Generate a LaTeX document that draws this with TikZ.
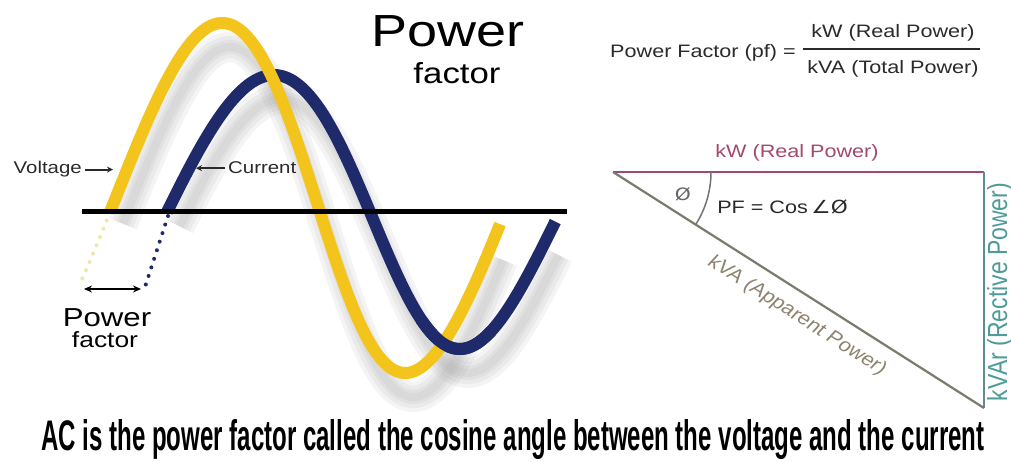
\documentclass[tikz,border=0pt]{standalone}
\usepackage{fontspec}
\setmainfont{Liberation Sans}
\newfontfamily\dejavu{DejaVu Sans}
\usepackage{graphicx}
\usetikzlibrary{arrows.meta,calc}
\definecolor{voltyellow}{HTML}{F3C41C}
\definecolor{currnavy}{HTML}{1F2A6B}
\definecolor{dotyellow}{HTML}{EFE7A8}
\definecolor{kwred}{HTML}{A3486E}
\definecolor{kvagray}{HTML}{7C7A6C}
\definecolor{kvatext}{HTML}{8E836E}
\definecolor{kvarteal}{HTML}{5E8F8C}
\definecolor{kvartext}{HTML}{4E9C98}
\definecolor{txtgray}{HTML}{2A2A2A}

\begin{document}
\begin{tikzpicture}[x=1pt, y=-1pt, >={Stealth[length=6pt,width=6pt]},
      declare function={vx(\t)=110+1.097*\t+7.25*sin(\t)+6.25*(1-cos(\t));
                         vy(\t)=212-175*sin(\t)-14*sin(\t)*sin(\t);
                         cx(\t)=167+1.0917*\t+5.25*sin(\t)+3.25*(1-cos(\t));
                         cy(\t)=212-137*sin(\t);},
      lbl/.style={inner sep=0pt, xscale=1.2, text=txtgray},
      wave/.style={line width=12pt},
      blur/.style={line width=#1, black!40, opacity=0.1},
      dots/.style={line width=4pt, line cap=round, dash pattern=on 0pt off 9pt},
      leg/.style={line width=2pt, txtgray},
      side/.style={line width=2.2pt}]
  \fill[white] (0,0) rectangle (1011,462);
  \useasboundingbox (0,0) rectangle (1011,462);

  % shadows of the waves
  \begin{scope}[shift={(8,24)}]
    \foreach \w in {30pt,22pt,14pt,8pt} {
      \draw[blur=\w] plot[domain=4:352, samples=120, variable=\t] ({vx(\t)},{vy(\t)});
      \draw[blur=\w] plot[domain=4:352, samples=120, variable=\t] ({cx(\t)},{cy(\t)});
    }
  \end{scope}

  \coordinate (cz) at (168,216);
  \coordinate (cd) at (145,287);
  \draw[dots, dotyellow] plot[domain=0:-26, samples=20, variable=\t] ({vx(\t)},{vy(\t)});
  \draw[dots, currnavy] (cz) -- (cd);

  \draw[wave, currnavy] plot[domain=0:356, samples=150, variable=\t] ({cx(\t)},{cy(\t)});
  \draw[wave, voltyellow] plot[domain=0:356, samples=150, variable=\t] ({vx(\t)},{vy(\t)});
  \draw[wave, currnavy] plot[domain=232:300, samples=40, variable=\t] ({cx(\t)},{cy(\t)});

  \coordinate (ax0) at (82,212);
  \coordinate (ax1) at (567,212);
  \draw[line width=5pt] (ax0) -- (ax1);

  \node[lbl, text=black, anchor=base, font=\fontsize{45}{50}\selectfont] (title) at (448,47) {Power};
  \node[lbl, text=black, anchor=base, font=\fontsize{29}{32}\selectfont] (title2) at (457,84) {factor};

  \node[lbl, anchor=base east, font=\fontsize{17}{19}\selectfont] (voltlbl) at (82,174) {Voltage};
  \node[lbl, anchor=base west, font=\fontsize{17}{19}\selectfont] (currlbl) at (228,174) {Current};
  \coordinate (vtip) at (113,168);
  \coordinate (ctip) at (196,168);
  \draw[->, leg, shorten <=3pt] (voltlbl.east) -- (vtip |- voltlbl.east);
  \draw[->, leg, shorten <=3pt] (currlbl.west) -- (ctip |- currlbl.west);

  \coordinate (pfL) at (84,289);
  \coordinate (pfR) at (141,289);
  \draw[<->, line width=2.5pt, >={Stealth[length=8pt,width=7pt]}] (pfL) -- (pfR);
  \node[lbl, text=black, anchor=base, font=\fontsize{26}{28}\selectfont] (pflow) at (107,326) {Power};
  \node[lbl, text=black, anchor=base, font=\fontsize{22}{24}\selectfont] (pflow2) at (105,347) {factor};

  \node[lbl, anchor=base west, font=\fontsize{18}{20}\selectfont] (pfdef) at (610,58) {Power Factor (pf) =};
  \node[lbl, anchor=base, font=\fontsize{18}{20}\selectfont] (numer) at (893,38) {kW (Real Power)};
  \node[lbl, anchor=base, font=\fontsize{18}{20}\selectfont] (denom) at (893,74) {kVA (Total Power)};
  \coordinate (fracL) at (803,49);
  \coordinate (fracR) at (980,49);
  \draw[line width=1.8pt, txtgray] (fracL) -- (fracR);

  \coordinate (tA) at (613,172);
  \coordinate (tB) at (984,172);
  \coordinate (tC) at (984,408);
  \draw[side, kwred] (tA) -- (tB);
  \draw[side, kvarteal] (tB) -- (tC);
  \draw[side, kvagray] (tA) -- (tC);
  \draw[line width=1.5pt, black!55] ($(tA)+(98,0)$) arc[start angle=0, end angle=32.5, radius=98];

  \node[lbl, anchor=base, text=kwred, font=\fontsize{18}{20}\selectfont] (kwlbl) at (797,158) {kW (Real Power)};
  \node[lbl, text=black!60, font=\dejavu\fontsize{17}{18}\selectfont] (philbl) at (683,194) {Ø};
  \node[lbl, anchor=base west, font=\fontsize{18}{20}\selectfont] (pflbl) at (717,214) {PF = Cos\,{\dejavu ∠Ø}};
  \node[lbl, text=kvatext, rotate=-37.4, font=\fontsize{18.5}{20}\selectfont] (kvalbl) at (797,316) {kVA (Apparent Power)};
  \node[lbl, text=kvartext, rotate=90, font=\fontsize{23}{25}\selectfont] (kvarlbl) at (1000,292) {kVAr (Rective Power)};

  \node[inner sep=0pt, anchor=base] (caption) at (513,450)
    {\resizebox{943pt}{31pt}{\bfseries AC is the power factor called the cosine angle between the voltage and the current}};
\end{tikzpicture}
\end{document}
